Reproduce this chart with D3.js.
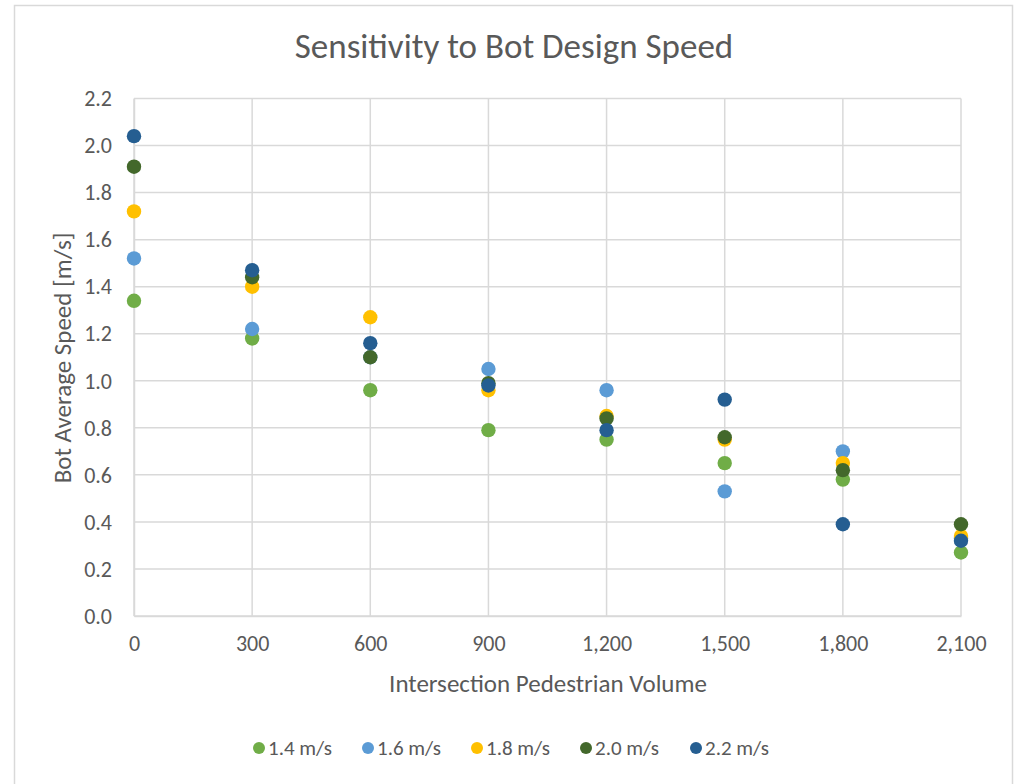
<!DOCTYPE html>
<html>
<head>
<meta charset="utf-8">
<script src="https://cdn.jsdelivr.net/npm/d3@7"></script>
<style>
  body { margin: 0; background: #fff; }
  svg { display: block; font-family: Carlito, Calibri, Lato, sans-serif; }
</style>
</head>
<body>
<svg id="chart" width="1019" height="784"></svg>
<script>
  // data
  const volumes = [0, 300, 600, 900, 1200, 1500, 1800, 2100];
  const seriesNames = ['1.4 m/s', '1.6 m/s', '1.8 m/s', '2.0 m/s', '2.2 m/s'];
  const speed14 = [1.34, 1.18, 0.96, 0.79, 0.75, 0.65, 0.58, 0.27];
  const speed16 = [1.52, 1.22, 1.10, 1.05, 0.96, 0.53, 0.70, 0.33];
  const speed18 = [1.72, 1.40, 1.27, 0.96, 0.85, 0.75, 0.65, 0.34];
  const speed20 = [1.91, 1.44, 1.10, 0.99, 0.84, 0.76, 0.62, 0.39];
  const speed22 = [2.04, 1.47, 1.16, 0.98, 0.79, 0.92, 0.39, 0.32];
  const colors = ['#70ad47', '#5b9bd5', '#ffc000', '#43682b', '#255e91'];
  const yTicks = [0, 0.2, 0.4, 0.6, 0.8, 1.0, 1.2, 1.4, 1.6, 1.8, 2.0, 2.2];

  const series = [speed14, speed16, speed18, speed20, speed22];

  const svg = d3.select('#chart');
  const W = 1019, H = 784;
  const m = { left: 134, right: W - 961, top: 98.5, bottom: H - 616 };
  const grey = '#595959', gridC = '#d9d9d9';

  // outer chart border
  svg.append('rect').attr('x', 14.5).attr('y', 5.5).attr('width', 998).attr('height', 790)
    .attr('fill', '#fff').attr('stroke', gridC).attr('stroke-width', 1.5);

  const x = d3.scaleLinear().domain([0, 2100]).range([m.left, W - m.right]);
  const y = d3.scaleLinear().domain([0, 2.2]).range([H - m.bottom, m.top]);

  // grid
  const g = svg.append('g');
  g.selectAll('line.h').data(yTicks).join('line').attr('class', 'h')
    .attr('x1', m.left).attr('x2', W - m.right)
    .attr('y1', d => y(d)).attr('y2', d => y(d))
    .attr('stroke', gridC).attr('stroke-width', 1.5);
  g.selectAll('line.v').data(volumes).join('line').attr('class', 'v')
    .attr('y1', m.top).attr('y2', H - m.bottom)
    .attr('x1', d => x(d)).attr('x2', d => x(d))
    .attr('stroke', gridC).attr('stroke-width', 1.5);

  // axes
  const xAxis = svg.append('g').attr('transform', 'translate(0,' + (H - m.bottom) + ')')
    .call(d3.axisBottom(x).tickValues(volumes).tickSize(0).tickPadding(22).tickFormat(d3.format(',')));
  const yAxis = svg.append('g').attr('transform', 'translate(' + m.left + ',0)')
    .call(d3.axisLeft(y).tickValues(yTicks).tickSize(0).tickPadding(22).tickFormat(d3.format('.1f')));
  [xAxis, yAxis].forEach(function (a) {
    a.select('.domain').attr('stroke', gridC).attr('stroke-width', 1.5);
    a.selectAll('text').attr('fill', grey).attr('font-size', 22).attr('font-family', 'Carlito, Calibri, Lato, sans-serif');
  });
  yAxis.selectAll('text').attr('dy', '0.33em');
  xAxis.selectAll('text').attr('dy', '0.6em');

  // points
  series.forEach(function (vals, i) {
    svg.append('g').selectAll('circle').data(vals).join('circle')
      .attr('cx', (d, j) => x(volumes[j])).attr('cy', d => y(d))
      .attr('r', 7.2).attr('fill', colors[i]);
  });

  // title & axis titles
  svg.append('text').attr('x', 514).attr('y', 58)
    .attr('text-anchor', 'middle').attr('fill', grey).attr('font-size', 35).text('Sensitivity to Bot Design Speed');
  svg.append('text').attr('x', 548).attr('y', 692)
    .attr('text-anchor', 'middle').attr('fill', grey).attr('font-size', 25).text('Intersection Pedestrian Volume');
  svg.append('text').attr('transform', 'translate(71,358) rotate(-90)')
    .attr('text-anchor', 'middle').attr('fill', grey).attr('font-size', 25).text('Bot Average Speed [m/s]');

  // legend
  const legX = [259, 368, 477, 586, 696];
  const leg = svg.append('g').selectAll('g').data(seriesNames).join('g')
    .attr('transform', (d, i) => 'translate(' + legX[i] + ',748)');
  leg.append('circle').attr('r', 6).attr('fill', (d, i) => colors[i]);
  leg.append('text').attr('x', 9).attr('dy', '0.33em').attr('fill', grey).attr('font-size', 21).text(d => d);
</script>
</body>
</html>
